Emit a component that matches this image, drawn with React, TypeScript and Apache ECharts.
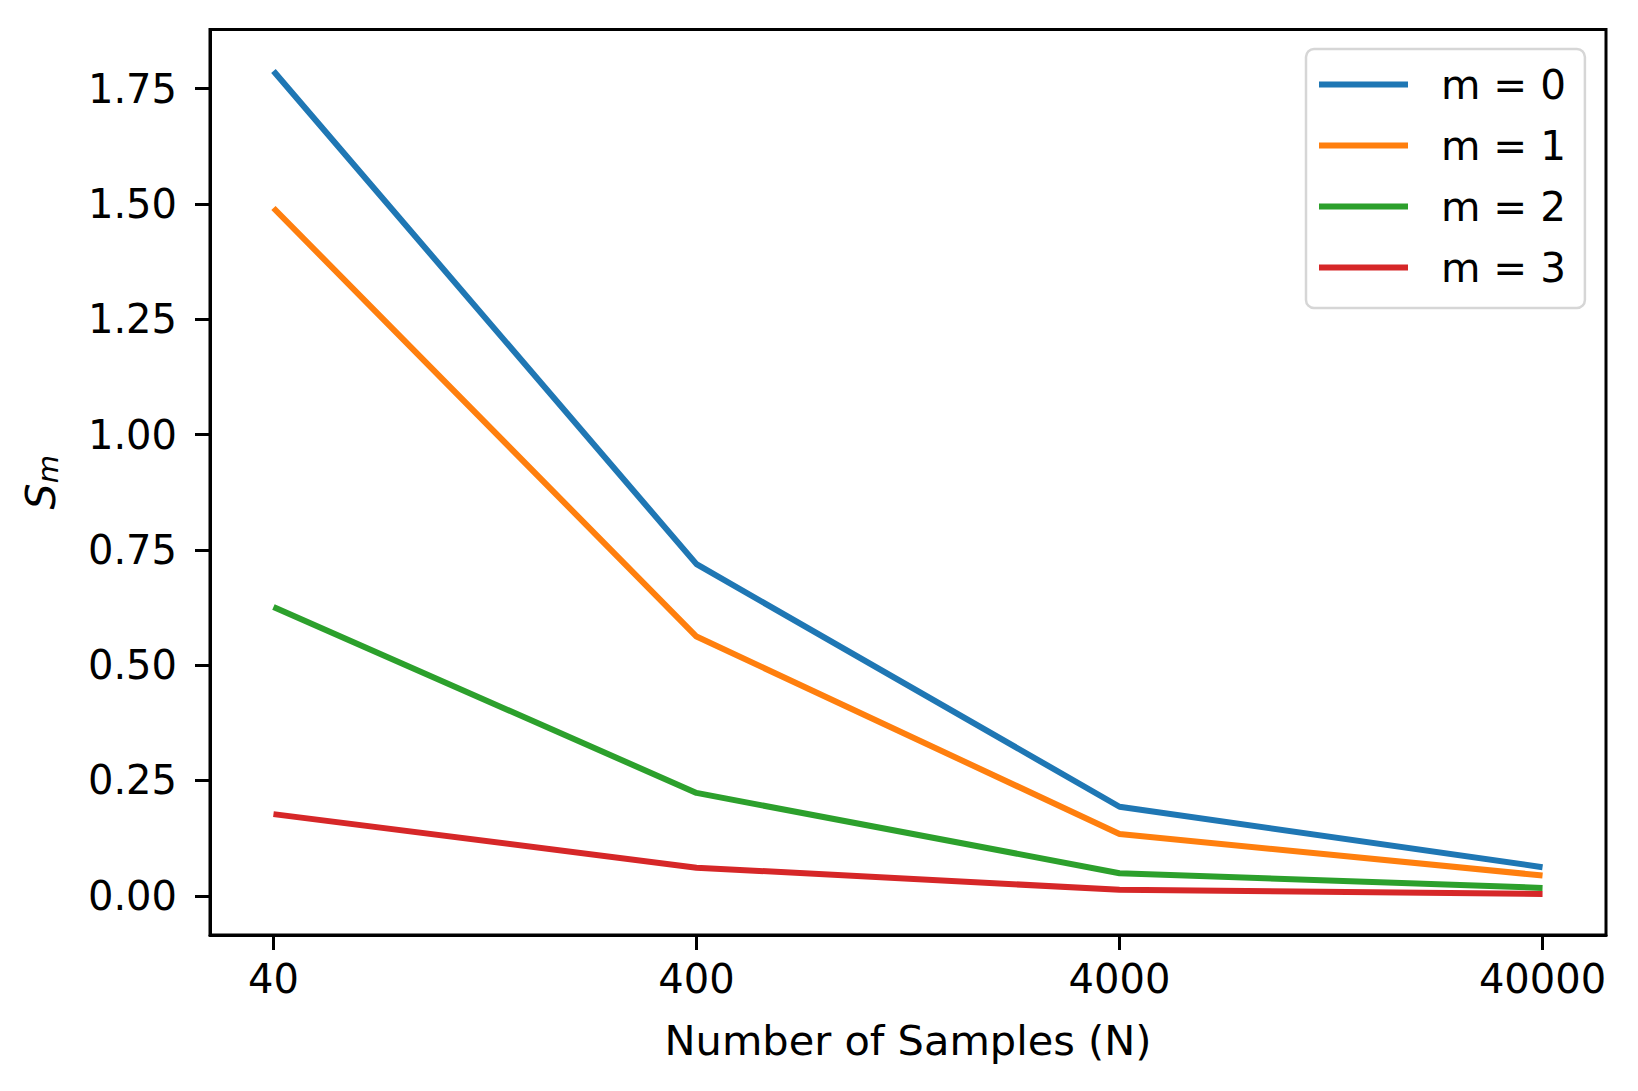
import React, { useEffect, useRef } from "react";
import * as echarts from "echarts";

const xLabels = ["40", "400", "4000", "40000"];
const xPositions = [0, 1, 2, 3];
const seriesNames = ["m = 0", "m = 1", "m = 2", "m = 3"];
const m0 = [1.788, 0.719, 0.193, 0.062];
const m1 = [1.491, 0.562, 0.134, 0.044];
const m2 = [0.626, 0.223, 0.049, 0.017];
const m3 = [0.177, 0.061, 0.013, 0.004];
const yTicks = [0, 0.25, 0.5, 0.75, 1.0, 1.25, 1.5, 1.75];
const colors = ["#1f77b4", "#ff7f0e", "#2ca02c", "#d62728"];

const FONT = "DejaVu Sans";

export default function App() {
  const ref = useRef<HTMLDivElement>(null);
  useEffect(() => {
    if (!ref.current) return;
    const chart = echarts.init(ref.current, undefined, { renderer: "svg" });
    const all = [m0, m1, m2, m3];
    chart.setOption({
      animation: false,
      backgroundColor: "#ffffff",
      textStyle: { fontFamily: FONT },
      grid: {
        left: 210,
        top: 29.5,
        right: 32,
        bottom: 156,
        show: true,
        borderColor: "#000000",
        borderWidth: 3,
        backgroundColor: "transparent",
      },
      legend: {
        orient: "vertical",
        left: 1306,
        top: 49,
        icon: "rect",
        itemWidth: 89,
        itemHeight: 6,
        itemGap: 20,
        padding: [15, 19, 20, 13],
        backgroundColor: "#ffffff",
        borderColor: "#d6d6d6",
        borderWidth: 2.5,
        borderRadius: 8,
        textStyle: {
          fontFamily: FONT,
          fontSize: 40.5,
          color: "#000000",
          padding: [0, 0, 0, 28],
        },
        data: seriesNames,
      },
      xAxis: {
        type: "value",
        min: -0.15,
        max: 3.15,
        splitLine: { show: false },
        axisLine: { show: true, onZero: false, lineStyle: { color: "#000", width: 3 } },
        axisTick: {
          show: true,
          length: 15,
          lineStyle: { color: "#000", width: 3 },
          customValues: xPositions,
        },
        axisLabel: {
          customValues: xPositions,
          formatter: (v: number) => xLabels[Math.round(v)] ?? "",
          fontFamily: FONT,
          fontSize: 40,
          color: "#000",
          margin: 24,
        },
        name: "Number of Samples (N)",
        nameLocation: "middle",
        nameGap: 84,
        nameTextStyle: { fontFamily: FONT, fontSize: 41.5, color: "#000" },
      },
      yAxis: {
        type: "value",
        min: -0.085,
        max: 1.878,
        splitLine: { show: false },
        axisLine: { show: true, onZero: false, lineStyle: { color: "#000", width: 3 } },
        axisTick: {
          show: true,
          length: 15,
          lineStyle: { color: "#000", width: 3 },
          customValues: yTicks,
        },
        axisLabel: {
          customValues: yTicks,
          formatter: (v: number) => v.toFixed(2),
          fontFamily: FONT,
          fontSize: 40,
          color: "#000",
          margin: 33,
        },
        name: "{s|S}{m|m}",
        nameLocation: "middle",
        nameGap: 148,
        nameRotate: 90,
        nameTextStyle: {
          rich: {
            s: { fontFamily: FONT, fontStyle: "italic", fontSize: 41, color: "#000" },
            m: {
              fontFamily: FONT,
              fontStyle: "italic",
              fontSize: 29,
              color: "#000",
              padding: [14, 0, 0, 0],
            },
          },
        },
      },
      series: all.map((vals, i) => ({
        name: seriesNames[i],
        type: "line",
        symbol: "none",
        data: vals.map((v, j) => [xPositions[j], v]),
        lineStyle: { color: colors[i], width: 6 },
        itemStyle: { color: colors[i] },
        z: 2 + i,
      })),
    });
    return () => chart.dispose();
  }, []);
  return (
    <div
      ref={ref}
      style={{ position: "fixed", left: 0, top: 0, width: 1638, height: 1091 }}
    />
  );
}
